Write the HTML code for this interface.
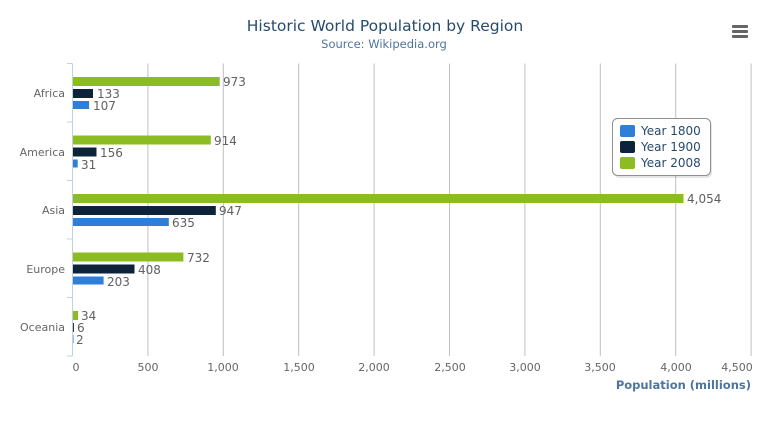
<!DOCTYPE html>
<html><head><style>
body{margin:0;background:#fff;}
text{font-family:"DejaVu Sans",sans-serif;}
</style></head><body>
<svg width="769" height="416" xmlns="http://www.w3.org/2000/svg">
<rect width="769" height="416" fill="#fff"/>
<text x="385" y="31" text-anchor="middle" font-size="15.5" fill="#274b6d">Historic World Population by Region</text>
<text x="384" y="48" text-anchor="middle" font-size="11.5" fill="#4d759e">Source: Wikipedia.org</text>
<g fill="#666"><rect x="732" y="25" width="16" height="3" rx="1"/><rect x="732" y="30" width="16" height="3" rx="1"/><rect x="732" y="35" width="16" height="3" rx="1"/></g>
<g stroke="#c0c0c0" stroke-width="1">
<line x1="147.9" y1="63.5" x2="147.9" y2="356"/><line x1="223.3" y1="63.5" x2="223.3" y2="356"/><line x1="298.7" y1="63.5" x2="298.7" y2="356"/><line x1="374.1" y1="63.5" x2="374.1" y2="356"/><line x1="449.5" y1="63.5" x2="449.5" y2="356"/><line x1="524.9" y1="63.5" x2="524.9" y2="356"/><line x1="600.3" y1="63.5" x2="600.3" y2="356"/><line x1="675.7" y1="63.5" x2="675.7" y2="356"/><line x1="751.1" y1="63.5" x2="751.1" y2="356"/>
</g>
<g stroke="#c0d0e0" stroke-width="1">
<line x1="72.5" y1="63.5" x2="72.5" y2="356"/>
<line x1="67" y1="63.5" x2="72.5" y2="63.5"/><line x1="67" y1="122" x2="72.5" y2="122"/><line x1="67" y1="180.5" x2="72.5" y2="180.5"/><line x1="67" y1="239" x2="72.5" y2="239"/><line x1="67" y1="297.5" x2="72.5" y2="297.5"/><line x1="67" y1="356" x2="72.5" y2="356"/>
</g>
<g font-size="11" fill="#666" text-anchor="end">
<text x="65" y="97">Africa</text><text x="65" y="156">America</text><text x="65" y="214">Asia</text><text x="65" y="273">Europe</text><text x="65" y="331">Oceania</text>
</g>
<g font-size="11" fill="#666" text-anchor="middle">
<text x="76" y="371">0</text><text x="148" y="371">500</text><text x="223" y="371">1,000</text><text x="299" y="371">1,500</text><text x="374" y="371">2,000</text><text x="450" y="371">2,500</text><text x="525" y="371">3,000</text><text x="600" y="371">3,500</text><text x="676" y="371">4,000</text><text x="737" y="371">4,500</text>
</g>
<text x="751" y="389" text-anchor="end" font-size="11.5" font-weight="bold" fill="#4d759e">Population (millions)</text>
<g>
<rect x="73" y="77" width="146.7" height="9" fill="#8bbc21"/><rect x="73" y="89" width="20" height="9" fill="#0d233a"/><rect x="73" y="101" width="16.1" height="8" fill="#2f7ed8"/>
<rect x="73" y="135.5" width="137.8" height="9" fill="#8bbc21"/><rect x="73" y="147.5" width="23.5" height="9" fill="#0d233a"/><rect x="73" y="159.5" width="4.7" height="8" fill="#2f7ed8"/>
<rect x="73" y="194" width="610.5" height="9" fill="#8bbc21"/><rect x="73" y="206" width="142.8" height="9" fill="#0d233a"/><rect x="73" y="218" width="95.8" height="8" fill="#2f7ed8"/>
<rect x="73" y="252.5" width="110.4" height="9" fill="#8bbc21"/><rect x="73" y="264.5" width="61.5" height="9" fill="#0d233a"/><rect x="73" y="276.5" width="30.6" height="8" fill="#2f7ed8"/>
<rect x="73" y="311" width="5.1" height="9" fill="#8bbc21"/><rect x="73" y="323" width="0.9" height="9" fill="#0d233a"/><rect x="73" y="335" width="0.5" height="8" fill="#2f7ed8"/>
</g>
<g font-size="12" fill="#606060">
<text x="223" y="86">973</text><text x="97" y="98">133</text><text x="93" y="110">107</text>
<text x="214" y="145">914</text><text x="100" y="157">156</text><text x="81" y="169">31</text>
<text x="687" y="203">4,054</text><text x="219" y="215">947</text><text x="172" y="227">635</text>
<text x="187" y="262">732</text><text x="138" y="274">408</text><text x="107" y="286">203</text>
<text x="81" y="320">34</text><text x="77" y="332">6</text><text x="76" y="344">2</text>
</g>
<rect x="614" y="120" width="98" height="58" rx="5" fill="#000" opacity="0.1"/>
<rect x="612.5" y="118.5" width="98" height="57" rx="5" fill="#fff" stroke="#909090"/>
<rect x="620" y="125" width="15" height="12" rx="2" fill="#2f7ed8"/>
<rect x="620" y="141" width="15" height="12" rx="2" fill="#0d233a"/>
<rect x="620" y="157" width="15" height="12" rx="2" fill="#8bbc21"/>
<g font-size="12" fill="#274b6d">
<text x="641" y="135">Year 1800</text><text x="641" y="151">Year 1900</text><text x="641" y="167">Year 2008</text>
</g>
</svg>
</body></html>
